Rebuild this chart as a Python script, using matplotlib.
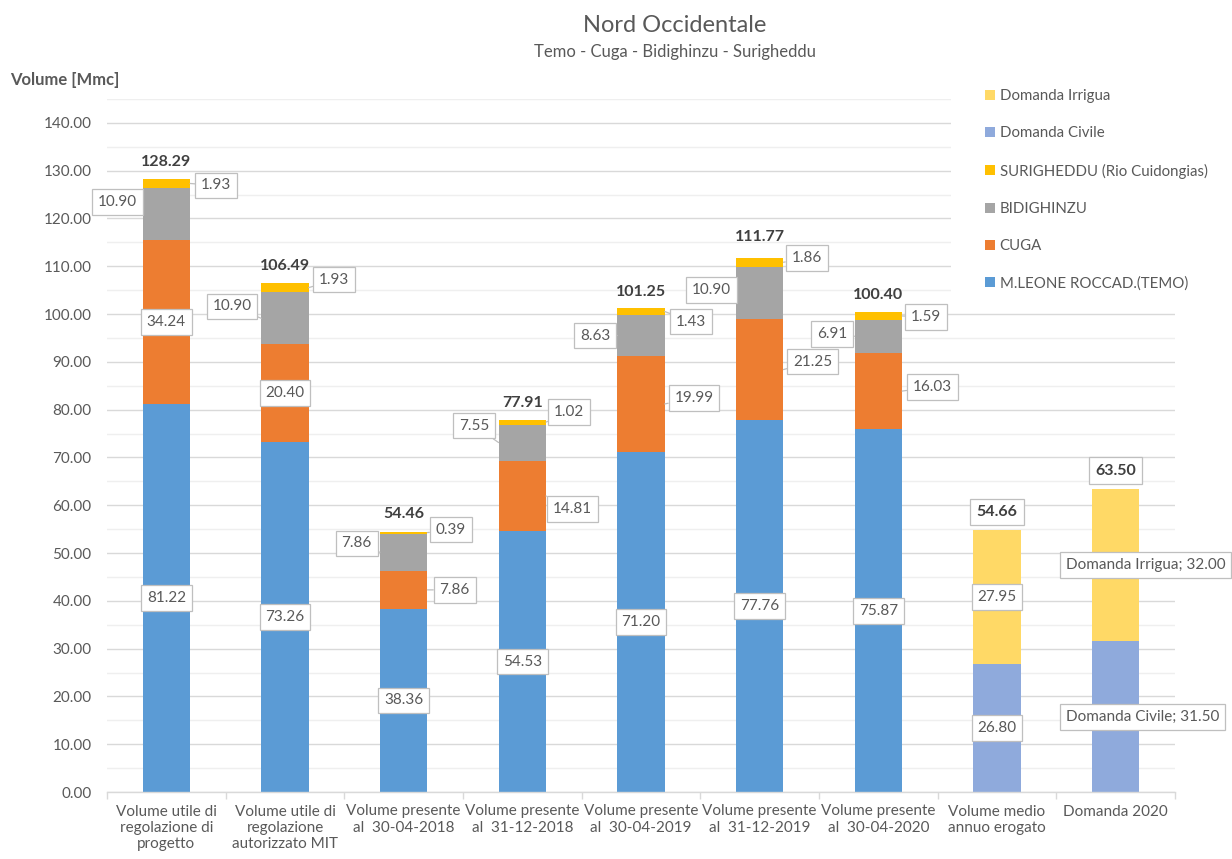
import matplotlib
matplotlib.use("Agg")
import matplotlib.pyplot as plt
import numpy as np
from matplotlib.patches import Patch, Rectangle
from matplotlib.ticker import MultipleLocator, FixedLocator

# ---------------- data ----------------
categories = [
    "Volume utile di\nregolazione di\nprogetto",
    "Volume utile di\nregolazione\nautorizzato MIT",
    "Volume presente\nal  30-04-2018",
    "Volume presente\nal  31-12-2018",
    "Volume presente\nal  30-04-2019",
    "Volume presente\nal  31-12-2019",
    "Volume presente\nal  30-04-2020",
    "Volume medio\nannuo erogato",
    "Domanda 2020",
]
temo = [81.22, 73.26, 38.36, 54.53, 71.20, 77.76, 75.87, np.nan, np.nan]
cuga = [34.24, 20.40, 7.86, 14.81, 19.99, 21.25, 16.03, np.nan, np.nan]
bidighinzu = [10.90, 10.90, 7.86, 7.55, 8.63, 10.90, 6.91, np.nan, np.nan]
surigheddu = [1.93, 1.93, 0.39, 1.02, 1.43, 1.86, 1.59, np.nan, np.nan]
civile = [np.nan] * 7 + [26.80, 31.50]
irrigua = [np.nan] * 7 + [27.95, 32.00]
totals = [128.29, 106.49, 54.46, 77.91, 101.25, 111.77, 100.40, 54.66, 63.50]

series_names = ["M.LEONE ROCCAD.(TEMO)", "CUGA", "BIDIGHINZU",
                "SURIGHEDDU (Rio Cuidongias)", "Domanda Civile", "Domanda Irrigua"]
series_values = [temo, cuga, bidighinzu, surigheddu, civile, irrigua]
series_colors = ["#5B9BD5", "#ED7D31", "#A5A5A5", "#FFC000", "#8FAADC", "#FFD966"]

# label offsets in pixels (dx, dy up) relative to segment centre
label_offsets = [
    [(0, 0)] * 9,
    [(0, 0), (0, 0), (51, 0), (50, -13), (53, 6), (53, 8), (54, 4), (0, 0), (0, 0)],
    [(-49, 12), (-53, 12), (-47, 9), (-48, 17), (-46, 0), (-48, 3), (-46, 2), (0, 0), (0, 0)],
    [(50, -2), (49, 8), (47, 3), (47, 10), (50, -10), (47, 4), (48, -1), (0, 0), (0, 0)],
    [(0, 0)] * 8 + [(27, 0)],
    [(0, 0)] * 8 + [(30, 0)],
]
total_offsets = [17, 17, 18, 17, 16, 21, 17, 18, 18]
total_boxed = [False] * 7 + [True, True]

# ---------------- style ----------------
FONT = "Lato"
plt.rcParams["font.family"] = [FONT, "DejaVu Sans"]
TXT = "#595959"
DARK = "#404040"
GRID = "#D9D9D9"
FS = 11

W, H = 1232, 859
DPI = 100
fig = plt.figure(figsize=(W / DPI, H / DPI), dpi=DPI)
ax_l, ax_r, ax_t, ax_b = 107, 1175, 99, 792
ax = fig.add_axes([ax_l / W, 1 - ax_b / H, (ax_r - ax_l) / W, (ax_b - ax_t) / H])

x = np.arange(len(categories))
bw = 0.4
px_per_cat = (ax_r - ax_l) / len(categories)
bw_px = bw * px_per_cat
PT = 72.0 / DPI
BOX = "square,pad=0.38"

bottom = np.zeros(len(categories))
for si, (vals, col) in enumerate(zip(series_values, series_colors)):
    v = np.array(vals, dtype=float)
    vz = np.nan_to_num(v)
    ax.bar(x, vz, bw, bottom=bottom, color=col, linewidth=0, zorder=2)
    for i in range(len(categories)):
        if np.isnan(v[i]):
            continue
        mid = bottom[i] + vz[i] / 2
        dx, dy = label_offsets[si][i]
        if si >= 4 and i == 8:
            txt = f"{series_names[si]}; {v[i]:.2f}"
        else:
            txt = f"{v[i]:.2f}"
        bbox = dict(boxstyle=BOX, fc="white", ec="#BFBFBF", lw=0.9)
        if dx != 0 and si < 4:
            sign = 1 if dx > 0 else -1
            ex = x[i] + sign * bw / 2
            ax.annotate(txt, xy=(ex, mid),
                        xytext=((dx - sign * bw_px / 2) * PT, dy * PT),
                        textcoords="offset points", ha="center", va="center",
                        fontsize=FS, color=TXT, bbox=bbox, zorder=5,
                        arrowprops=dict(arrowstyle="-", color="#BFBFBF", lw=0.9,
                                        shrinkA=0, shrinkB=0))
        else:
            ax.annotate(txt, xy=(x[i], mid), xytext=(dx * PT, dy * PT),
                        textcoords="offset points", ha="center", va="center",
                        fontsize=FS, color=TXT, bbox=bbox, zorder=5)
    bottom = bottom + vz

for i, t in enumerate(totals):
    kw = {}
    if total_boxed[i]:
        kw["bbox"] = dict(boxstyle=BOX, fc="white", ec="#BFBFBF", lw=0.9)
    ax.annotate(f"{t:.2f}", xy=(x[i], bottom[i]), xytext=(0, total_offsets[i] * PT),
                textcoords="offset points", ha="center", va="center",
                fontsize=11.5, fontweight="bold", color=DARK, zorder=5, **kw)

# axes
ax.set_xlim(-0.5, len(categories) - 0.5)
ax.set_ylim(0, 145)
ax.yaxis.set_major_locator(FixedLocator(np.arange(0, 141, 10)))
ax.yaxis.set_minor_locator(MultipleLocator(5))
ax.set_yticklabels([f"{v:.2f}" for v in np.arange(0, 141, 10)])
ax.grid(axis="y", which="major", color=GRID, lw=1, zorder=0)
ax.grid(axis="y", which="minor", color="#EFEFEF", lw=1, zorder=0)
ax.set_axisbelow(True)
ax.tick_params(axis="y", which="both", length=0, labelsize=FS, labelcolor=TXT, pad=11)

ax.xaxis.set_major_locator(FixedLocator(np.arange(-0.5, len(categories), 1)))
ax.xaxis.set_minor_locator(FixedLocator(x))
ax.set_xticklabels([], minor=False)
ax.set_xticklabels(categories, minor=True, fontsize=FS, color=TXT, linespacing=1.22)
ax.tick_params(axis="x", which="major", length=5, color=GRID, width=1)
ax.tick_params(axis="x", which="minor", length=0, pad=9)
for s in ["top", "right", "left"]:
    ax.spines[s].set_visible(False)
ax.spines["bottom"].set_color(GRID)
ax.spines["bottom"].set_linewidth(1)

# legend area (white background covering gridlines)
ax.add_patch(Rectangle((951 / W, 1 - 300 / H), (W - 951) / W, 220 / H,
                       transform=fig.transFigure, fc="white", ec="none",
                       zorder=3, clip_on=False))
handles = [Patch(facecolor=series_colors[k], edgecolor="none") for k in range(5, -1, -1)]
labels = [series_names[k] for k in range(5, -1, -1)]
leg = ax.legend(handles, labels, loc="upper left",
                bbox_to_anchor=(985 / W, 1 - 89 / H), bbox_transform=fig.transFigure,
                frameon=False, fontsize=10.8, labelcolor=TXT, borderaxespad=0, borderpad=0,
                handlelength=0.65, handleheight=0.65, handletextpad=0.32, labelspacing=1.55)
leg.set_zorder(6)

# titles
fig.text(675 / W, 1 - 25 / H, "Nord Occidentale", ha="center", va="center",
         fontsize=17, color=TXT)
fig.text(675 / W, 1 - 52 / H, "Temo - Cuga - Bidighinzu - Surigheddu", ha="center",
         va="center", fontsize=12, color=TXT)
fig.text(10 / W, 1 - 80 / H, "Volume [Mmc]", ha="left", va="center", fontsize=12,
         fontweight="bold", color=TXT)

fig.savefig("out.png", dpi=DPI, facecolor="white")
